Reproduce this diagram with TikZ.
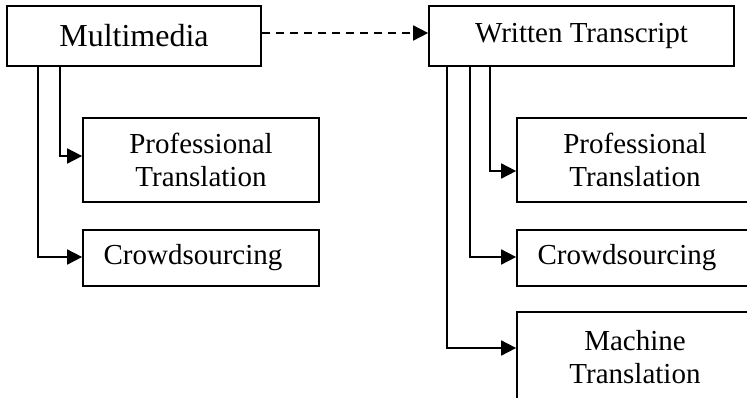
\documentclass[tikz,border=0pt]{standalone}
\usepackage{fontspec}
\setmainfont{Liberation Serif}
\usetikzlibrary{arrows.meta,calc}
\tikzset{
  box/.style={draw, line width=1.7pt, align=center, inner sep=0pt,
    font=\fontsize{29pt}{33pt}\selectfont},
  conn/.style={line width=1.7pt, -{Triangle[length=15pt,width=15pt]}},
  dconn/.style={conn, dash pattern=on 8pt off 6pt}
}
\begin{document}
\begin{tikzpicture}[x=1pt,y=-1pt]
\clip (0,0) rectangle (747,397);
\fill[white] (0,0) rectangle (747,397);
% top boxes
\node[box, minimum width=254pt, minimum height=60pt, font=\fontsize{32pt}{36pt}\selectfont] (mm) at (134,36) {Multimedia};
\node[box, minimum width=305pt, minimum height=60pt] (wt) at (581.5,36) {Written Transcript};
% left children
\node[box, minimum width=236pt, minimum height=84pt] (lpt) at (201,160) {Professional\\Translation};
\node[box, minimum width=236pt, minimum height=56pt] (lcs) at (201,258) {Crowdsourcing\hspace*{16pt}};
% right children
\node[box, minimum width=236pt, minimum height=84pt] (rpt) at (635,160) {Professional\\Translation};
\node[box, minimum width=236pt, minimum height=56pt] (rcs) at (635,258) {Crowdsourcing\hspace*{16pt}};
\node[box, minimum width=236pt, minimum height=90pt] (rmt) at (635,357) {Machine\\Translation};
% connectors
\draw[dconn] ([yshift=3pt]mm.east) -- ([yshift=3pt]wt.west);
\draw[conn] ([xshift=54pt]mm.south west) |- ([yshift=4pt]lpt.west);
\draw[conn] ([xshift=32pt]mm.south west) |- ([yshift=1pt]lcs.west);
\draw[conn] ([xshift=62pt]wt.south west) |- ([yshift=-11pt]rpt.west);
\draw[conn] ([xshift=42pt]wt.south west) |- ([yshift=1pt]rcs.west);
\draw[conn] ([xshift=19pt]wt.south west) |- ([yshift=9pt]rmt.west);
\end{tikzpicture}
\end{document}
